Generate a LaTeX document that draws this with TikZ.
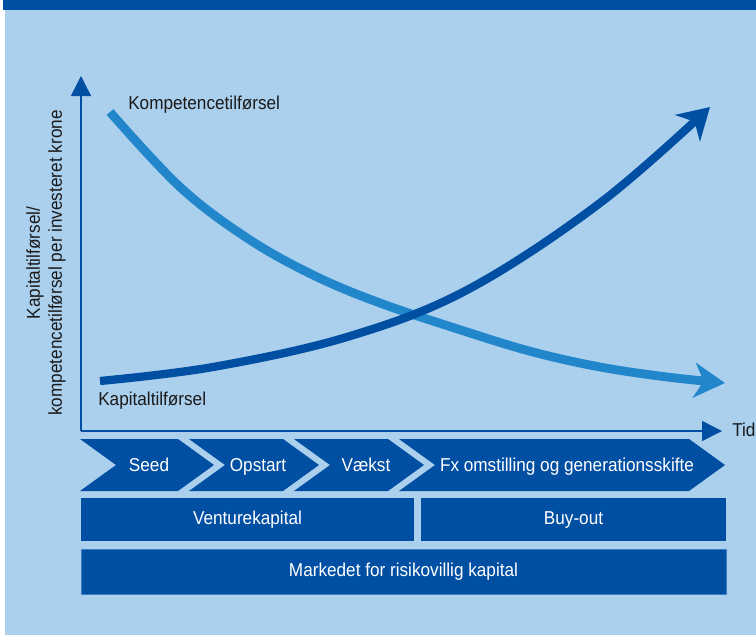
\documentclass[tikz,border=0pt]{standalone}
\usepackage{fontspec}
\setmainfont{Liberation Sans}[FakeStretch=0.92]
\usetikzlibrary{arrows.meta}
\definecolor{bgblue}{HTML}{ABD0EE}
\definecolor{darkblue}{HTML}{004FA3}
\definecolor{curveblue}{HTML}{2186CA}
\definecolor{boxedge}{HTML}{3F7FC8}
\definecolor{textblack}{HTML}{1A1A1A}
\tikzset{
  axis/.style={draw=darkblue, line width=1.1pt, -{Triangle[length=15pt,width=15pt]}},
  kapital/.style={draw=darkblue, line width=6.2pt, -{Stealth[length=23pt,width=27pt,inset=7pt]}},
  kompetence/.style={draw=curveblue, line width=6.6pt, -{Stealth[length=23pt,width=26pt,inset=7pt]}},
  label/.style={text=textblack, font=\fontsize{14}{16.5}\selectfont, inner sep=0pt},
  phase/.style={fill=darkblue},
  phasetext/.style={text=white, font=\fontsize{14}{16.5}\selectfont, inner sep=0pt,
    anchor=base},
  capbox/.style={fill=darkblue, text=white, inner sep=0pt,
    text height=10pt, text depth=3pt, font=\fontsize{14}{16.5}\selectfont}
}
\begin{document}
\begin{tikzpicture}[x=0.75pt,y=-0.75pt]
  \useasboundingbox (0,0) rectangle (756,635);
  % background
  \fill[white] (0,0) rectangle (756,635);
  \fill[bgblue] (5,10) rectangle (756,635);
  \fill[darkblue] (3,0) rectangle (756,10);

  % axes
  \coordinate (o) at (81,431);
  \coordinate (ytip) at (81,76);
  \coordinate (xtip) at (722,431);
  \draw[axis] (o) -- (ytip);
  \draw[axis] (o) -- (xtip);
  \node[label, anchor=base west] (tid) at (732,436) {Tid};
  \node[label, rotate=90, align=center] (ytitle) at (46,263)
    {Kapitaltilførsel/\\kompetencetilførsel per investeret krone};

  % curves
  \draw[kompetence] plot[smooth, tension=0.6] coordinates
    {(110,112) (180,187) (247,238) (313,275) (380,303) (467,332)
     (533,352) (600,367) (667,377) (725,383)};
  \draw[kapital] plot[smooth, tension=0.6] coordinates
    {(100,381) (213,367) (347,337) (467,290) (600,203) (710,107)};
  \node[label, anchor=base west] (kompetence) at (128,109) {Kompetencetilførsel};
  \node[label, anchor=base west] (kapital) at (98,405) {Kapitaltilførsel};

  % phases
  \foreach \xa/\xb/\xt/\name/\txt in {80/178/149/seed/Seed,
      189/283/258/opstart/Opstart, 294/388/366/vaekst/Vækst,
      399/689/567/omstilling/Fx omstilling og generationsskifte} {
    \fill[phase] (\xa,439) -- (\xb,439) -- (\xb+36,465) -- (\xb,491)
      -- (\xa,491) -- (\xa+36,465) -- cycle;
    \node[phasetext] (\name) at (\xt,471) {\txt};
  }

  % capital boxes
  \node[capbox, minimum width=249.75pt, minimum height=32.25pt]
    (venture) at (247.5,519.5) {Venturekapital};
  \node[capbox, minimum width=228.75pt, minimum height=32.25pt]
    (buyout) at (573.5,519.5) {Buy-out};
  \node[capbox, draw=boxedge, line width=0.6pt, minimum width=483.75pt,
    minimum height=33.75pt] (marked) at (403.5,571.5)
    {Markedet for risikovillig kapital};
\end{tikzpicture}
\end{document}
